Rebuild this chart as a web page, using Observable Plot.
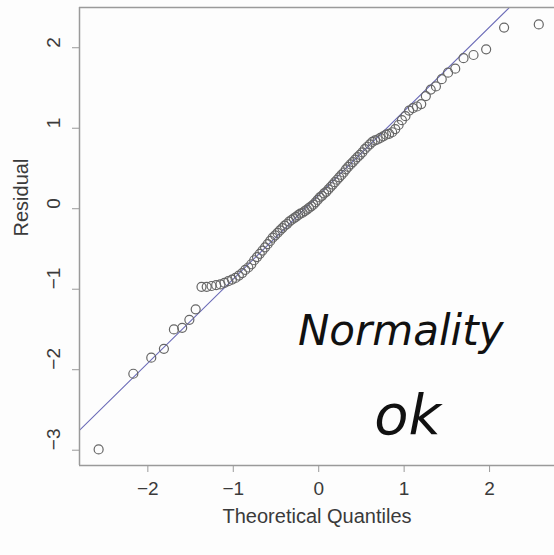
<!DOCTYPE html>
<html>
<head>
<meta charset="utf-8">
<script src="https://cdn.jsdelivr.net/npm/d3@7"></script>
<script src="https://cdn.jsdelivr.net/npm/@observablehq/plot@0.6"></script>
<style>
  html, body { margin: 0; padding: 0; background: #fdfdfd; }
  #chart { width: 554px; height: 555px; }
</style>
</head>
<body>
<div id="chart"></div>
<script>
// Theoretical normal quantiles (n = 100)
const theoretical = [
  -2.576, -2.170, -1.960, -1.812, -1.695, -1.598, -1.514, -1.440, -1.372, -1.311,
  -1.254, -1.200, -1.150, -1.103, -1.058, -1.015, -0.974, -0.935, -0.896, -0.860,
  -0.824, -0.789, -0.755, -0.722, -0.690, -0.659, -0.628, -0.598, -0.568, -0.539,
  -0.510, -0.482, -0.454, -0.426, -0.399, -0.372, -0.345, -0.319, -0.292, -0.266,
  -0.240, -0.215, -0.189, -0.164, -0.138, -0.113, -0.088, -0.063, -0.038, -0.0125,
  0.0125, 0.038, 0.063, 0.088, 0.113, 0.138, 0.164, 0.189, 0.215, 0.240,
  0.266, 0.292, 0.319, 0.345, 0.372, 0.399, 0.426, 0.454, 0.482, 0.510,
  0.539, 0.568, 0.598, 0.628, 0.659, 0.690, 0.722, 0.755, 0.789, 0.824,
  0.860, 0.896, 0.935, 0.974, 1.015, 1.058, 1.103, 1.150, 1.200, 1.254,
  1.311, 1.372, 1.440, 1.514, 1.598, 1.695, 1.812, 1.960, 2.170, 2.576
];
// Sorted residuals
const residual = [
  -2.99, -2.05, -1.85, -1.74, -1.50, -1.48, -1.38, -1.25, -0.97, -0.97,
  -0.96, -0.95, -0.94, -0.92, -0.90, -0.88, -0.86, -0.83, -0.80, -0.76,
  -0.73, -0.69, -0.64, -0.60, -0.56, -0.52, -0.48, -0.44, -0.40, -0.36,
  -0.33, -0.30, -0.27, -0.24, -0.21, -0.19, -0.16, -0.14, -0.12, -0.10,
  -0.08, -0.06, -0.05, -0.03, -0.01, 0.01, 0.03, 0.05, 0.08, 0.11,
  0.14, 0.16, 0.19, 0.21, 0.24, 0.27, 0.30, 0.33, 0.36, 0.39,
  0.42, 0.45, 0.49, 0.52, 0.55, 0.58, 0.61, 0.64, 0.67, 0.70,
  0.74, 0.77, 0.80, 0.83, 0.85, 0.86, 0.88, 0.90, 0.92, 0.93,
  0.95, 0.99, 1.04, 1.10, 1.15, 1.22, 1.25, 1.27, 1.30, 1.40,
  1.48, 1.52, 1.61, 1.69, 1.74, 1.87, 1.91, 1.98, 2.25, 2.29
];
// qqline
const lineIntercept = 0.17;
const lineSlope = 1.044;

const xTicks = [-2, -1, 0, 1, 2];
const yTicks = [-3, -2, -1, 0, 1, 2];
const xTitle = "Theoretical Quantiles";
const yTitle = "Residual";
const notes = ["Normality", "ok"];
const noteX = [0.96, 1.04];
const noteY = [-1.52, -2.57];
const noteSize = [42, 56];

const xDomain = [-2.8, 2.76];
const yDomain = [-3.19, 2.50];

const points = theoretical.map((t, i) => ({x: t, y: residual[i]}));
const qqline = [xDomain[0] - 1, xDomain[1] + 1].map(x => ({x, y: lineIntercept + lineSlope * x}));
const noteData = notes.map((t, i) => ({text: t, x: noteX[i], y: noteY[i], size: noteSize[i]}));

const textColor = "#3a3a3a";
const frameColor = "#9a9a9a";
const fmt = d => d < 0 ? "\u2212" + Math.abs(d) : String(d);

const chart = Plot.plot({
  width: 554,
  height: 555,
  marginLeft: 79,
  marginRight: 0,
  marginTop: 7,
  marginBottom: 90,
  style: {background: "#fdfdfd", fontFamily: "'Liberation Sans', Arial, sans-serif", color: textColor},
  x: {domain: xDomain},
  y: {domain: yDomain},
  marks: [
    Plot.line(qqline, {x: "x", y: "y", stroke: "#6c6cb8", strokeWidth: 1.1, clip: true}),
    Plot.dot(points, {x: "x", y: "y", r: 4.5, stroke: "#666", strokeWidth: 1.2, fill: "none"}),
    Plot.ruleX([xDomain[0]], {stroke: frameColor, strokeWidth: 1.5}),
    Plot.ruleY(yDomain, {stroke: frameColor, strokeWidth: 1.5}),
    Plot.axisX(xTicks, {tickSize: 7, tickPadding: 9, fontSize: 19, stroke: frameColor, fill: textColor, label: null, tickFormat: fmt}),
    Plot.axisY(yTicks, {tickSize: 7, tickFormat: () => "", stroke: frameColor, label: null}),
    Plot.text(yTicks, {y: d => d, text: fmt, frameAnchor: "left", dx: -26, rotate: -90, fontSize: 19, fill: textColor}),
    Plot.text([xTitle], {text: d => d, frameAnchor: "bottom", dy: 57, fontSize: 20, fill: textColor}),
    Plot.text([yTitle], {text: d => d, frameAnchor: "left", dx: -58, rotate: -90, fontSize: 20, fill: textColor}),
    Plot.text(noteData, {x: "x", y: "y", text: "text", fontSize: d => d.size, fill: "#111", fontFamily: "'DejaVu Sans', sans-serif", fontStyle: "italic"})
  ]
});
document.getElementById("chart").append(chart);
</script>
</body>
</html>
